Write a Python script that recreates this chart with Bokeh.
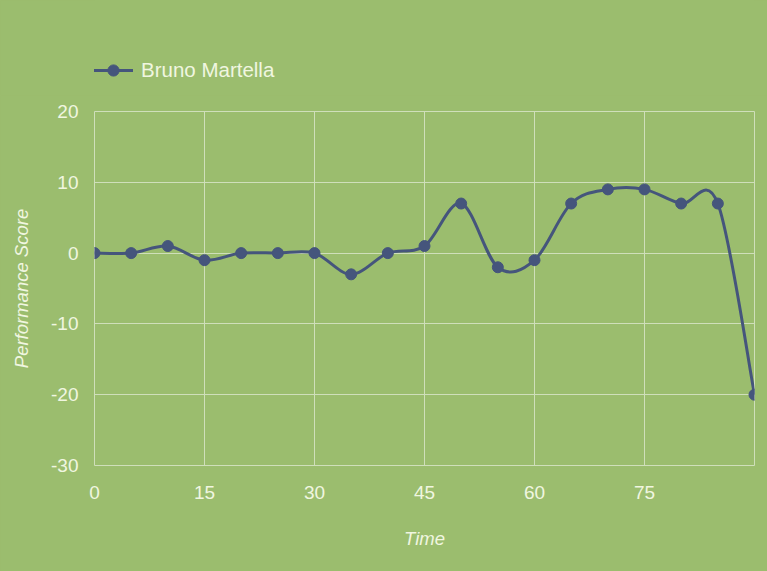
from bokeh.plotting import figure
from bokeh.layouts import column
from bokeh.models import Range1d, FixedTicker, Legend, LegendItem, ColumnDataSource
from bokeh.embed import file_html
from bokeh.resources import INLINE

# ---- data ----
time = [0, 5, 10, 15, 20, 25, 30, 35, 40, 45, 50, 55, 60, 65, 70, 75, 80, 85, 90]
score = [0, 0, 1, -1, 0, 0, 0, -3, 0, 1, 7, -2, -1, 7, 9, 9, 7, 7, -20]
series_name = "Bruno Martella"
x_ticks = [0, 15, 30, 45, 60, 75, 90]
y_ticks = [-30, -20, -10, 0, 10, 20]

# ---- style ----
BG = "#9bbd6e"
GRID = "#cfdfba"
TEXT = "#f0f6e0"
LINE = "#45557c"
FONT = "Liberation Sans"

W, H = 767, 571
ML, MR, MT, MB = 94, 13, 111, 106
TOP_H = 95                 # height of the legend strip
MAIN_TOP = MT - TOP_H      # border above the plot area inside the main figure
LEG_BOTTOM = 84            # pixel row of the legend's bottom edge

# smoothed-line (Catmull-Rom) bezier control points from the data
def smooth_controls(xs, ys, k=1.0 / 6.0):
    n = len(xs)
    prev_c, next_c = [], []
    for i in range(n):
        a, b = max(i - 1, 0), min(i + 1, n - 1)
        dx, dy = xs[b] - xs[a], ys[b] - ys[a]
        prev_c.append((xs[i] - k * dx, ys[i] - k * dy))
        next_c.append((xs[i] + k * dx, ys[i] + k * dy))
    return prev_c, next_c

pc, nc = smooth_controls(time, score)
seg = ColumnDataSource(dict(
    x0=time[:-1], y0=score[:-1], x1=time[1:], y1=score[1:],
    cx0=[c[0] for c in nc[:-1]], cy0=[c[1] for c in nc[:-1]],
    cx1=[c[0] for c in pc[1:]], cy1=[c[1] for c in pc[1:]],
))

bg_style = {"background-color": BG}

# ---- top strip holding the legend (its view range keeps the data out of sight) ----
top = figure(width=W, height=TOP_H, x_range=Range1d(1000, 1001), y_range=Range1d(1000, 1001),
             x_axis_type=None, y_axis_type=None, output_backend="svg",
             toolbar_location=None, min_border=0)
top.styles = bg_style
top.background_fill_color = BG
top.border_fill_color = BG
top.outline_line_color = None
top.xgrid.visible = False
top.ygrid.visible = False
lg_line = top.line(time, score, line_color=LINE, line_width=3)
lg_pts = top.scatter(time, score, size=11, fill_color=LINE, line_color=LINE)
legend = Legend(items=[LegendItem(label=series_name, renderers=[lg_line, lg_pts])],
                location=(-1, TOP_H - LEG_BOTTOM), orientation="horizontal",
                background_fill_alpha=0, border_line_color=None,
                padding=0, margin=0, glyph_width=40, glyph_height=28,
                label_height=28, label_standoff=8, label_text_color=TEXT,
                label_text_font=FONT, label_text_font_size="20.5px")
top.add_layout(legend, "center")

# ---- main chart ----
p = figure(width=W, height=H - TOP_H, x_range=Range1d(x_ticks[0], x_ticks[-1]),
           y_range=Range1d(y_ticks[0], y_ticks[-1]),
           output_backend="svg", toolbar_location=None,
           min_border_left=ML, min_border_right=MR, min_border_top=MAIN_TOP,
           min_border_bottom=MB)
p.styles = bg_style
p.background_fill_color = BG
p.border_fill_color = BG
p.outline_line_color = GRID
p.outline_line_width = 1

for g, tk in ((p.xgrid, x_ticks), (p.ygrid, y_ticks)):
    g.ticker = FixedTicker(ticks=tk)
    g.grid_line_color = GRID
    g.grid_line_width = 1

for ax, tk in ((p.xaxis, x_ticks), (p.yaxis, y_ticks)):
    ax.ticker = FixedTicker(ticks=tk)
    ax.axis_line_color = None
    ax.major_tick_line_color = None
    ax.minor_tick_line_color = None
    ax.major_tick_out = 0
    ax.major_tick_in = 0
    ax.minor_tick_out = 0
    ax.minor_tick_in = 0
    ax.major_label_text_color = TEXT
    ax.major_label_text_font = FONT
    ax.major_label_text_font_size = "19px"
    ax.axis_label_text_color = TEXT
    ax.axis_label_text_font = FONT
    ax.axis_label_text_font_size = "18.5px"
    ax.axis_label_text_font_style = "italic"

p.xaxis.major_label_overrides = {90: ""}
p.yaxis.major_label_overrides = {v: str(v) for v in y_ticks}
p.xaxis.axis_label = "Time"
p.yaxis.axis_label = "Performance Score"
p.xaxis.major_label_standoff = 20
p.xaxis.axis_label_standoff = 26
p.yaxis.major_label_standoff = 16
p.yaxis.axis_label_standoff = 16

p.bezier(x0="x0", y0="y0", x1="x1", y1="y1", cx0="cx0", cy0="cy0",
         cx1="cx1", cy1="cy1", source=seg, line_color=LINE, line_width=3)
p.scatter(time, score, size=11, fill_color=LINE, line_color=LINE)

layout = column(top, p, spacing=0)
layout.styles = bg_style
open("out.html", "w").write(file_html(layout, INLINE))
